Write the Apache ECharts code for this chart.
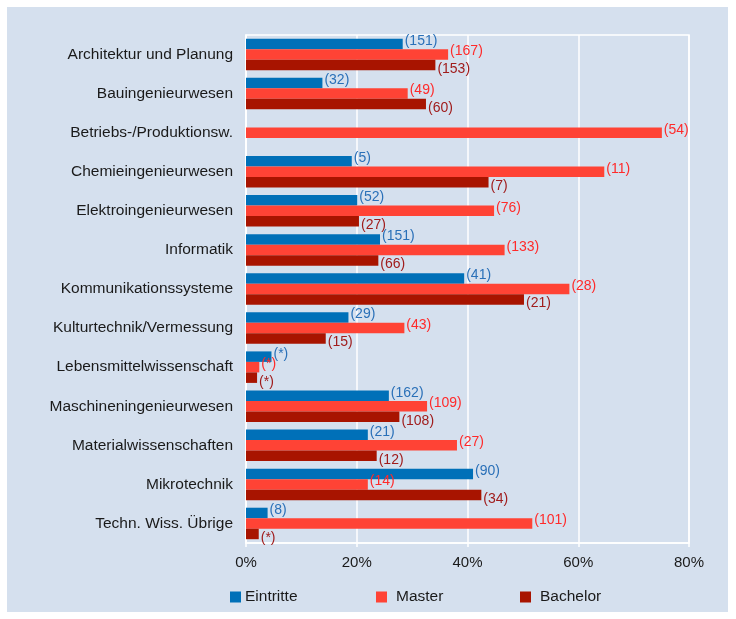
<!DOCTYPE html>
<html>
<head>
<meta charset="utf-8">
<script src="https://cdn.jsdelivr.net/npm/echarts@6/dist/echarts.min.js"></script>
<style>
  html, body { margin: 0; padding: 0; background: #fff; }
  #chart { width: 736px; height: 619px; }
</style>
</head>
<body>
<div id="chart"></div>
<script>
// Fachbereiche (top to bottom)
const categories = [
  'Architektur und Planung', 'Bauingenieurwesen', 'Betriebs-/Produktionsw.',
  'Chemieingenieurwesen', 'Elektroingenieurwesen', 'Informatik',
  'Kommunikationssysteme', 'Kulturtechnik/Vermessung', 'Lebensmittelwissenschaft',
  'Maschineningenieurwesen', 'Materialwissenschaften', 'Mikrotechnik',
  'Techn. Wiss. Übrige'
]

// Anteile in %
const eintritteShare = [28.3, 13.8, null, 19.1, 20.1, 24.2, 39.4, 18.5, 4.6, 25.8, 22.0, 41.0, 3.9]
const masterShare = [36.5, 29.2, 75.1, 64.7, 44.8, 46.7, 58.4, 28.6, 2.4, 32.7, 38.1, 22.0, 51.7]
const bachelorShare = [34.2, 32.5, null, 43.8, 20.4, 23.9, 50.2, 14.4, 2.0, 27.7, 23.6, 42.5, 2.3]

// Fallzahlen (Labels)
const eintritteCount = ['151', '32', '', '5', '52', '151', '41', '29', '*', '162', '21', '90', '8']
const masterCount = ['167', '49', '54', '11', '76', '133', '28', '43', '*', '109', '27', '14', '101']
const bachelorCount = ['153', '60', '', '7', '27', '66', '21', '15', '*', '108', '12', '34', '*']

const xTicks = [0, 20, 40, 60, 80]

const FONT = '"Liberation Sans", Arial, Helvetica, sans-serif'

function makeSeries(name, shares, counts, barColor, labelColor, offsetY) {
  return {
    name: name,
    type: 'bar',
    barWidth: 10.5,
    barGap: '0%',
    itemStyle: { color: barColor },
    label: {
      show: true,
      position: 'right',
      distance: 2,
      offset: [0, offsetY],
      color: labelColor,
      fontFamily: FONT,
      fontSize: 14,
      formatter: p => counts[p.dataIndex] ? '(' + counts[p.dataIndex] + ')' : ''
    },
    data: shares
  }
}

const myChart = echarts.init(document.getElementById('chart'))

let option = {
  backgroundColor: '#fff',
  animation: false,
  graphic: [
    {
      type: 'rect',
      z: -10,
      shape: { x: 7, y: 7, width: 721, height: 605 },
      style: { fill: '#d5e0ee' }
    }
  ],
  grid: {
    left: 246,
    right: 47,
    top: 35,
    bottom: 76,
    show: true,
    borderColor: '#fff',
    borderWidth: 1.5,
    backgroundColor: 'transparent'
  },
  legend: [
    {
      left: 225, top: 584,
      itemWidth: 11, itemHeight: 11, itemGap: 0,
      icon: 'rect',
      textStyle: { fontFamily: FONT, fontSize: 15.5, color: '#1a1a1a', padding: [0, 0, 0, -1] },
      data: ['Eintritte']
    },
    {
      left: 371, top: 584,
      itemWidth: 11, itemHeight: 11,
      icon: 'rect',
      textStyle: { fontFamily: FONT, fontSize: 15.5, color: '#1a1a1a', padding: [0, 0, 0, 4] },
      data: ['Master']
    },
    {
      left: 515, top: 584,
      itemWidth: 11, itemHeight: 11,
      icon: 'rect',
      textStyle: { fontFamily: FONT, fontSize: 15.5, color: '#1a1a1a', padding: [0, 0, 0, 4] },
      data: ['Bachelor']
    }
  ],
  xAxis: {
    type: 'value',
    min: 0,
    max: 80,
    interval: 20,
    axisLine: { show: true, lineStyle: { color: '#fff', width: 1.5 } },
    axisTick: { show: true, length: 4, lineStyle: { color: '#fff', width: 1.5 } },
    splitLine: { show: true, lineStyle: { color: '#fff', width: 1.5 } },
    axisLabel: {
      margin: 12,
      fontFamily: FONT,
      fontSize: 15,
      color: '#1a1a1a',
      formatter: v => xTicks.includes(v) ? v + '%' : ''
    }
  },
  yAxis: {
    type: 'category',
    inverse: true,
    data: categories,
    axisLine: { show: true, lineStyle: { color: '#fff', width: 1.5 } },
    axisTick: { show: false },
    splitLine: { show: false },
    axisLabel: {
      margin: 13,
      fontFamily: FONT,
      fontSize: 15.5,
      color: '#1a1a1a'
    }
  },
  series: [
    makeSeries('Eintritte', eintritteShare, eintritteCount, '#0070b8', '#2a70b8', -3),
    makeSeries('Master', masterShare, masterCount, '#ff4335', '#ff2a2a', -3),
    makeSeries('Bachelor', bachelorShare, bachelorCount, '#a81400', '#a01c1c', 4)
  ]
}

myChart.setOption(option)
</script>
</body>
</html>
